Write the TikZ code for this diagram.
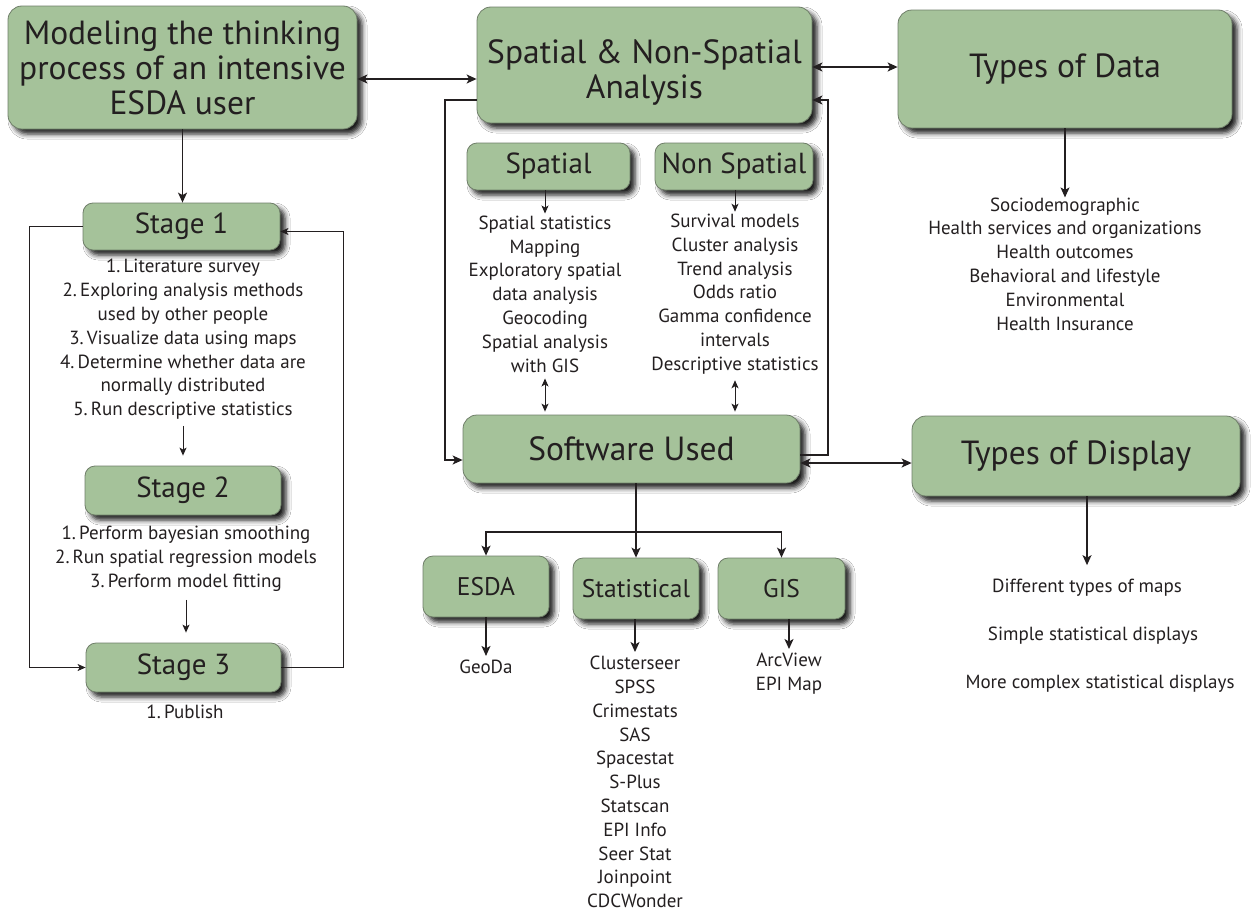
\documentclass[tikz,border=0pt]{standalone}
\usepackage{fontspec}
\setmainfont{PT Sans}
\usetikzlibrary{arrows.meta,shadows.blur}
\definecolor{boxgreen}{HTML}{A5C29A}
\definecolor{boxedge}{HTML}{6F7E69}
\definecolor{ink}{HTML}{231F20}
\tikzset{
  box/.style={draw=boxedge, line width=0.8pt, fill=boxgreen, text=ink,
    align=center, inner sep=0pt, rounded corners=14pt,
    blur shadow={shadow xshift=5pt, shadow yshift=-5pt,
      shadow blur radius=5pt, shadow opacity=90}},
  smallbox/.style={box, rounded corners=10pt},
  bigtitle/.style={font=\fontsize{33.5}{35}\selectfont},
  midtitle/.style={font=\fontsize{29}{30}\selectfont},
  smalltitle/.style={font=\fontsize{25.5}{27}\selectfont},
  listtext/.style={align=center, text=ink, inner sep=0pt,
    font=\fontsize{19}{23.8}\selectfont},
  link/.style={draw=ink, line width=1.3pt,
    -{Stealth[length=10pt,width=9pt,inset=2.5pt]}},
  dlink/.style={link, {Stealth[length=10pt,width=9pt,inset=2.5pt]}-{Stealth[length=10pt,width=9pt,inset=2.5pt]}},
  thinlink/.style={draw=ink, line width=1pt,
    -{Stealth[length=8pt,width=7pt,inset=2pt]}},
  dthinlink/.style={thinlink, {Stealth[length=8pt,width=7pt,inset=2pt]}-{Stealth[length=8pt,width=7pt,inset=2pt]}},
  plain/.style={draw=ink, line width=1.3pt}
}
\begin{document}
\begin{tikzpicture}[x=1pt,y=-1pt]
  \useasboundingbox[fill=white] (0,0) rectangle (1258,918);

  % level markers used for horizontal connector runs
  \coordinate (h67) at (0,67);
  \coordinate (h79) at (0,79);
  \coordinate (h100) at (0,100);
  \coordinate (h455) at (0,455);
  \coordinate (h460) at (0,460);
  \coordinate (h463) at (0,463);
  \coordinate (bus) at (0,532);
  \coordinate (vl) at (445,0);
  \coordinate (vr) at (828,0);

  % top row
  \node[box, bigtitle, minimum width=349pt, minimum height=123pt] (model) at (182.5,67.5)
    {Modeling the thinking\\process of an intensive\\ESDA user};
  \node[box, bigtitle, minimum width=335pt, minimum height=116pt] (sna) at (644.5,65)
    {\rule{0pt}{38pt}Spatial \& Non-Spatial\\Analysis};
  \node[box, bigtitle, minimum width=334pt, minimum height=118pt] (tod) at (1065,69)
    {Types of Data};

  % spatial / non-spatial
  \node[smallbox, midtitle, minimum width=163pt, minimum height=47pt] (sp) at (548.5,166.5) {Spatial};
  \node[smallbox, midtitle, minimum width=158pt, minimum height=47pt] (nsp) at (734,166.5) {Non Spatial};
  \node[listtext] (splist) at (545,294)
    {Spatial statistics\\Mapping\\Exploratory spatial\\data analysis\\Geocoding\\Spatial analysis\\with GIS};
  \node[listtext] (nsplist) at (735,294)
    {Survival models\\Cluster analysis\\Trend analysis\\Odds ratio\\Gamma confidence\\intervals\\Descriptive statistics};

  % stages
  \node[smallbox, midtitle, minimum width=197pt, minimum height=47pt] (st1) at (181.5,226.5) {Stage 1};
  \node[listtext] (st1list) at (183,339.5)
    {1.\,Literature survey\\2.\,Exploring analysis methods\\used by other people\\3.\,Visualize data using maps\\4.\,Determine whether data are\\normally distributed\\5.\,Run descriptive statistics};
  \node[smallbox, midtitle, minimum width=196pt, minimum height=49pt] (st2) at (183,490.5) {Stage 2};
  \node[listtext] (st2list) at (186,559)
    {1.\,Perform bayesian smoothing\\2.\,Run spatial regression models\\3.\,Perform model fitting};
  \node[smallbox, midtitle, minimum width=195pt, minimum height=49pt] (st3) at (183.5,667.5) {Stage 3};
  \node[listtext] (pub) at (185,712) {1.\,Publish};

  % software
  \node[box, bigtitle, minimum width=337pt, minimum height=68pt] (sw) at (631.5,449) {Software Used};
  \node[box, bigtitle, minimum width=328pt, minimum height=80pt] (tdisp) at (1076,456) {Types of Display};
  \node[smallbox, smalltitle, minimum width=126pt, minimum height=61pt] (esda) at (486,586.5) {ESDA};
  \node[smallbox, smalltitle, minimum width=126pt, minimum height=61pt] (stat) at (636,588.5) {Statistical};
  \node[smallbox, smalltitle, minimum width=127pt, minimum height=61pt] (gis) at (781.5,588.5) {GIS};

  \node[listtext] (geoda) at (486,667) {GeoDa};
  \node[listtext, anchor=north] (statlist) at (635,656)
    {Clusterseer\\SPSS\\Crimestats\\SAS\\Spacestat\\S-Plus\\Statscan\\EPI Info\\Seer Stat\\Joinpoint\\CDCWonder};
  \node[listtext, anchor=north] (gislist) at (789,653) {ArcView\\EPI Map};

  % data and display lists
  \node[listtext] (todlist) at (1065,264)
    {Sociodemographic\\Health services and organizations\\Health outcomes\\Behavioral and lifestyle\\Environmental\\Health Insurance};
  \node[listtext] (disp1) at (1087,588) {Different types of maps};
  \node[listtext] (disp2) at (1093,636) {Simple statistical displays};
  \node[listtext] (disp3) at (1100,684) {More complex statistical displays};

  % connectors, top row
  \draw[dlink] (model.east |- h79) -- (sna.west |- h79);
  \draw[dlink] (sna.east |- h67) -- (tod.west |- h67);
  \draw[link] (model.south) -- (model.south |- st1.north);
  \draw[link] (tod.south) -- (todlist.north -| tod.south);

  % loop between the analysis box and the software box
  \draw[link] (sna.west |- h100) -- (vl |- h100) -- (vl |- h460) -- (sw.west |- h460);
  \draw[link] (sw.east |- h455) -- (vr |- h455) -- (vr |- h100) -- (sna.east |- h100);
  \draw[dlink] (sw.east |- h463) -- (tdisp.west |- h463);
  \draw[link, shorten >=14pt] (tdisp.south -| disp1.north) -- (disp1.north);

  % spatial lists
  \draw[thinlink, shorten >=2pt] (sp.south -| splist.north) -- (splist.north);
  \draw[thinlink, shorten >=2pt] (nsp.south -| nsplist.north) -- (nsplist.north);
  \draw[dthinlink, shorten <=6pt, shorten >=3pt] (splist.south) -- (splist.south |- sw.north);
  \draw[dthinlink, shorten <=6pt, shorten >=3pt] (nsplist.south) -- (nsplist.south |- sw.north);

  % software branches
  \draw[plain] (sw.south -| stat.north) -- (stat.north |- bus);
  \draw[link] (stat.north |- bus) -- (stat.north);
  \draw[link] (stat.north |- bus) -| (esda.north);
  \draw[link] (stat.north |- bus) -| (gis.north);
  \draw[link, shorten >=4pt] (esda.south) -- (geoda.north);
  \draw[link, shorten >=4pt] (stat.south -| statlist.north) -- (statlist.north);
  \draw[link, shorten >=4pt] (gis.south -| gislist.north) -- (gislist.north);

  % stage column
  \draw[thinlink, shorten <=6pt, shorten >=10pt] (st1list.south) -- (st2.north -| st1list.south);
  \draw[thinlink, shorten <=8pt, shorten >=10pt] (st2list.south) -- (st3.north -| st2list.south);
  \draw[thinlink] (st1.west) -- ++(-53,0) |- (st3.west);
  \draw[thinlink] (st3.east) -- ++(62,0) |- ([yshift=-5pt]st1.east);
\end{tikzpicture}
\end{document}
